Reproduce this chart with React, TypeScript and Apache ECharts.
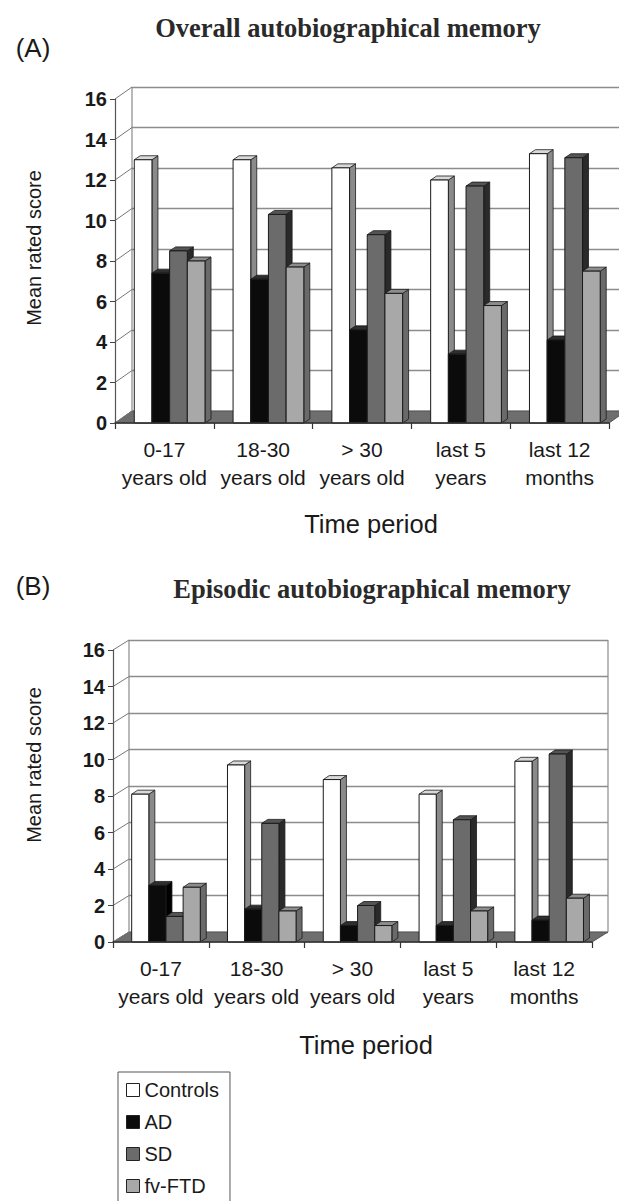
import React, { useEffect, useRef } from "react";
import * as echarts from "echarts";

const categories = ["0-17\nyears old", "18-30\nyears old", "> 30\nyears old", "last 5\nyears", "last 12\nmonths"];
const groups = ["Controls", "AD", "SD", "fv-FTD"];
const yTicks = [0, 2, 4, 6, 8, 10, 12, 14, 16];

// Panel A: Overall autobiographical memory
const overallControls = [13.0, 13.0, 12.6, 12.0, 13.3];
const overallAD = [7.4, 7.1, 4.6, 3.4, 4.1];
const overallSD = [8.5, 10.3, 9.3, 11.7, 13.1];
const overallFTD = [8.0, 7.7, 6.4, 5.8, 7.5];

// Panel B: Episodic autobiographical memory
const episodicControls = [8.1, 9.7, 8.9, 8.1, 9.9];
const episodicAD = [3.1, 1.8, 0.9, 0.9, 1.2];
const episodicSD = [1.4, 6.5, 2.0, 6.7, 10.3];
const episodicFTD = [3.0, 1.7, 0.9, 1.7, 2.4];

const SANS = '"Liberation Sans", Arial, sans-serif';
const SERIF = '"Liberation Serif", "Times New Roman", serif';

const faces = [
  { front: "#ffffff", top: "#d9d9d9", side: "#8a8a8a" },
  { front: "#0b0b0b", top: "#2e2e2e", side: "#000000" },
  { front: "#6b6b6b", top: "#545454", side: "#2a2a2a" },
  { front: "#a8a8a8", top: "#8c8c8c", side: "#6a6a6a" },
];

const BAR_OFFSET = 0.195;
const BAR_FRAC = 0.179;
const BAR_DX = 6;
const BAR_DY = -4;

function barSeries(name: string, values: number[], sIdx: number, axisIdx: number) {
  const f = faces[sIdx];
  return {
    type: "custom",
    name,
    xAxisIndex: axisIdx,
    yAxisIndex: axisIdx,
    z: 5,
    itemStyle: { color: f.front },
    data: values.map((v, i) => [i, v]),
    encode: { x: 0, y: 1 },
    renderItem: (params: any, api: any) => {
      const cat = api.value(0);
      const val = api.value(1);
      const base = api.coord([cat, 0]);
      const top = api.coord([cat, val]);
      const band = api.size([1, 0])[0];
      const w = band * BAR_FRAC;
      const x0 = base[0] - band / 2 + band * BAR_OFFSET + sIdx * w;
      const yb = base[1];
      const yt = top[1];
      const edge = "#1a1a1a";
      return {
        type: "group",
        children: [
          {
            type: "polygon",
            shape: { points: [[x0 + w, yt], [x0 + w + BAR_DX, yt + BAR_DY], [x0 + w + BAR_DX, yb + BAR_DY], [x0 + w, yb]] },
            style: { fill: f.side, stroke: edge, lineWidth: 0.8 },
          },
          {
            type: "polygon",
            shape: { points: [[x0, yt], [x0 + BAR_DX, yt + BAR_DY], [x0 + w + BAR_DX, yt + BAR_DY], [x0 + w, yt]] },
            style: { fill: f.top, stroke: edge, lineWidth: 0.8 },
          },
          {
            type: "rect",
            shape: { x: x0, y: yt, width: w, height: yb - yt },
            style: { fill: f.front, stroke: edge, lineWidth: 1 },
          },
        ],
      };
    },
  };
}

function decorSeries(axisIdx: number, dx: number, dy: number, rightWall: boolean) {
  return {
    type: "custom",
    name: "decor" + axisIdx,
    xAxisIndex: axisIdx,
    yAxisIndex: axisIdx,
    silent: true,
    z: 2,
    data: [[0, 0]],
    renderItem: (params: any, api: any) => {
      const cs = params.coordSys;
      const x = cs.x, y = cs.y, w = cs.width, h = cs.height;
      const yb = y + h;
      const children: any[] = [
        {
          type: "polygon",
          shape: { points: [[x, yb], [x + w, yb], [x + w + dx, yb + dy], [x + dx, yb + dy]] },
          style: { fill: "#6e6e6e", stroke: "#555", lineWidth: 1 },
        },
        {
          type: "line",
          shape: { x1: x + dx, y1: y + dy, x2: x + dx, y2: yb + dy },
          style: { stroke: "#8a8a8a", lineWidth: 1.2 },
        },
      ];
      yTicks.forEach((t) => {
        const p = api.coord([0, t])[1];
        children.push({
          type: "line",
          shape: { x1: x, y1: p, x2: x + dx, y2: p + dy },
          style: { stroke: "#777", lineWidth: 1 },
        });
      });
      if (rightWall) {
        children.push({
          type: "line",
          shape: { x1: x + w + dx, y1: y + dy, x2: x + w + dx, y2: yb + dy },
          style: { stroke: "#8a8a8a", lineWidth: 1.2 },
        });
      }
      return { type: "group", children };
    },
  };
}

function frontX(gridIndex: number) {
  return {
    gridIndex,
    type: "category",
    data: categories,
    boundaryGap: true,
    axisLine: { show: true, lineStyle: { color: "#333", width: 1.5 } },
    axisTick: { show: true, length: 6, lineStyle: { color: "#333", width: 1.2 } },
    axisLabel: { interval: 0, fontSize: 21, lineHeight: 28, margin: 12, color: "#1a1a1a", fontFamily: SANS },
    splitLine: { show: false },
    z: 6,
  };
}
function backX(gridIndex: number) {
  return { gridIndex, type: "category", data: categories, show: false };
}
function frontY(gridIndex: number) {
  return {
    gridIndex,
    type: "value",
    min: 0,
    max: 16,
    interval: 2,
    axisLine: { show: true, lineStyle: { color: "#555", width: 1.2 } },
    axisTick: { show: true, length: 5, lineStyle: { color: "#444" } },
    axisLabel: { fontSize: 20, fontWeight: "bold", margin: 8, color: "#1a1a1a", fontFamily: SANS },
    splitLine: { show: false },
    z: 6,
  };
}
function backY(gridIndex: number) {
  return {
    gridIndex,
    type: "value",
    min: 0,
    max: 16,
    interval: 2,
    axisLine: { show: false },
    axisTick: { show: false },
    axisLabel: { show: false },
    splitLine: { show: true, lineStyle: { color: "#8c8c8c", width: 1.3 } },
  };
}

function txt(text: string, x: number, y: number, size: number, opts: any = {}) {
  return {
    type: "text",
    x,
    y,
    rotation: opts.rotation || 0,
    silent: true,
    style: {
      text,
      fontSize: size,
      fontWeight: opts.bold ? "bold" : "normal",
      fontFamily: opts.family || SANS,
      fill: opts.color || "#1a1a1a",
      align: opts.align || "center",
      verticalAlign: "middle",
    },
  };
}

export default function App() {
  const ref = useRef<HTMLDivElement>(null);
  useEffect(() => {
    document.body.style.margin = "0";
    document.body.style.overflow = "hidden";
    document.documentElement.style.overflow = "hidden";
    if (!ref.current) return;
    const chart = echarts.init(ref.current, null, { renderer: "svg" });
    const option: any = {
      animation: false,
      backgroundColor: "#ffffff",
      grid: [
        { left: 115, width: 494, top: 99, height: 324 },
        { left: 132, width: 494, top: 87, height: 324 },
        { left: 113, width: 479, top: 650, height: 292 },
        { left: 129, width: 479, top: 640, height: 292 },
      ],
      xAxis: [frontX(0), backX(1), frontX(2), backX(3)],
      yAxis: [frontY(0), backY(1), frontY(2), backY(3)],
      legend: {
        orient: "vertical",
        left: 118,
        top: 1072,
        icon: "rect",
        itemWidth: 13,
        itemHeight: 13,
        itemGap: 12,
        selectedMode: false,
        borderColor: "#555",
        borderWidth: 1,
        padding: [8, 11, 10, 8],
        textStyle: { fontSize: 20, lineHeight: 20, color: "#1a1a1a", fontFamily: SANS },
        data: groups.map((g, i) => ({
          name: g,
          itemStyle: { color: faces[i].front, borderColor: "#222", borderWidth: 1 },
        })),
      },
      graphic: [
        txt("(A)", 33, 48, 26),
        txt("Overall autobiographical memory", 348, 28, 26.5, { bold: true, family: SERIF, color: "#2a2a2a" }),
        txt("Mean rated score", 34, 248, 20, { rotation: Math.PI / 2 }),
        txt("Time period", 371, 524, 25.5),
        txt("(B)", 33, 586, 26),
        txt("Episodic autobiographical memory", 372, 589, 26.5, { bold: true, family: SERIF, color: "#2a2a2a" }),
        txt("Mean rated score", 34, 765, 20, { rotation: Math.PI / 2 }),
        txt("Time period", 366, 1045, 25.5),
      ],
      series: [
        decorSeries(0, 17, -12, false),
        barSeries("Controls", overallControls, 0, 0),
        barSeries("AD", overallAD, 1, 0),
        barSeries("SD", overallSD, 2, 0),
        barSeries("fv-FTD", overallFTD, 3, 0),
        decorSeries(2, 16, -10, true),
        barSeries("Controls", episodicControls, 0, 2),
        barSeries("AD", episodicAD, 1, 2),
        barSeries("SD", episodicSD, 2, 2),
        barSeries("fv-FTD", episodicFTD, 3, 2),
      ],
    };
    chart.setOption(option);
    return () => chart.dispose();
  }, []);
  return <div ref={ref} style={{ width: 619, height: 1240 }} />;
}
